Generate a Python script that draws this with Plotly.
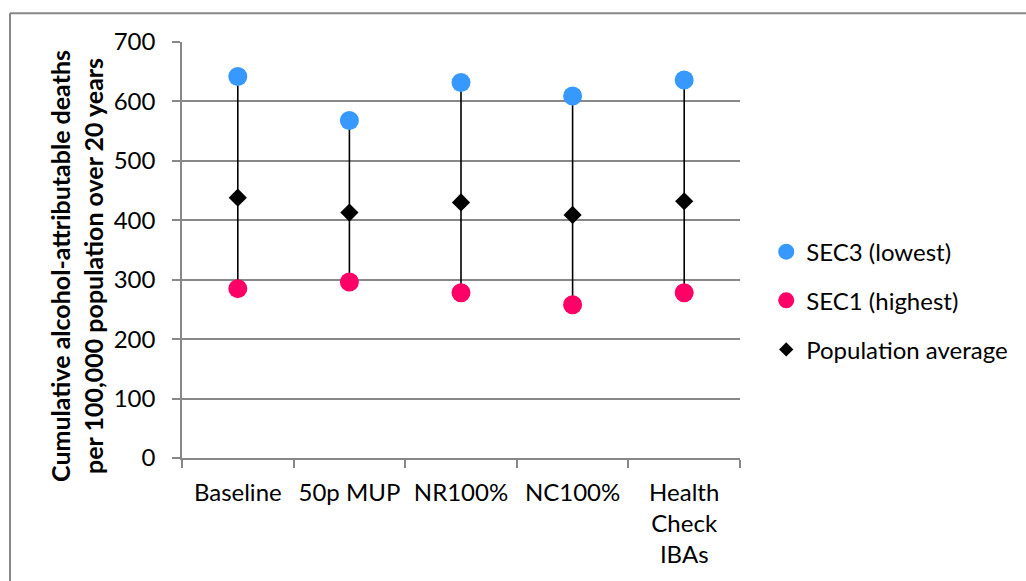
import plotly.graph_objects as go

# Scenario categories and cumulative deaths per 100,000 over 20 years
categories = ["Baseline", "50p MUP", "NR100%", "NC100%", "Health Check IBAs"]
tick_labels = ["Baseline", "50p MUP", "NR100%", "NC100%", "Health<br>Check<br>IBAs"]
sec3_lowest = [642, 568, 632, 609, 636]
sec1_highest = [285, 296, 278, 258, 278]
population_average = [438, 413, 430, 409, 432]

y_ticks = [0, 100, 200, 300, 400, 500, 600, 700]

BLUE = "#3799FF"
PINK = "#FF0066"
GREY = "#888888"
FONT = "Lato"

fig = go.Figure()

# High-low connector lines between the two socio-economic groups
line_x, line_y = [], []
for c, lo, hi in zip(categories, sec1_highest, sec3_lowest):
    line_x += [c, c, None]
    line_y += [lo, hi, None]
fig.add_trace(go.Scatter(x=line_x, y=line_y, mode="lines",
                         line=dict(color="black", width=1.6),
                         showlegend=False, hoverinfo="skip"))

fig.add_trace(go.Scatter(x=categories, y=sec3_lowest, mode="markers",
                         marker=dict(color=BLUE, size=19, symbol="circle"),
                         showlegend=False, name="SEC3 (lowest)"))
fig.add_trace(go.Scatter(x=categories, y=sec1_highest, mode="markers",
                         marker=dict(color=PINK, size=19, symbol="circle"),
                         showlegend=False, name="SEC1 (highest)"))
fig.add_trace(go.Scatter(x=categories, y=population_average, mode="markers",
                         marker=dict(color="black", size=14, symbol="diamond"),
                         showlegend=False, name="Population average"))

# Legend entries (smaller symbols, one legend box per entry)
fig.add_trace(go.Scatter(x=[None], y=[None], mode="markers", name="SEC3 (lowest)",
                         marker=dict(color=BLUE, size=16, symbol="circle"),
                         legend="legend"))
fig.add_trace(go.Scatter(x=[None], y=[None], mode="markers", name="SEC1 (highest)",
                         marker=dict(color=PINK, size=16, symbol="circle"),
                         legend="legend2"))
fig.add_trace(go.Scatter(x=[None], y=[None], mode="markers", name="Population average",
                         marker=dict(color="black", size=11, symbol="diamond"),
                         legend="legend3"))

legend_common = dict(x=1.047, xanchor="left", yanchor="middle",
                     font=dict(family=FONT, size=24, color="black"),
                     bgcolor="rgba(0,0,0,0)", borderwidth=0)

fig.update_layout(
    width=1026, height=581,
    margin=dict(l=182, r=286, t=42, b=123, autoexpand=False),
    paper_bgcolor="white", plot_bgcolor="white",
    font=dict(family=FONT, size=24, color="black"),
    legend=dict(y=0.495, **legend_common),
    legend2=dict(y=0.378, **legend_common),
    legend3=dict(y=0.260, **legend_common),
    xaxis=dict(
        type="category", categoryorder="array", categoryarray=categories,
        tickmode="array", tickvals=categories, ticktext=tick_labels,
        range=[-0.5, 4.5], showgrid=False, zeroline=False,
        showline=True, linecolor=GREY, linewidth=1.5,
        ticks="outside", tickson="boundaries", ticklen=8,
        tickcolor=GREY, tickwidth=1.5, ticklabelstandoff=12,
        tickangle=0, automargin=False,
        tickfont=dict(family=FONT, size=24, color="black"),
    ),
    yaxis=dict(
        range=[0, 700], tickvals=y_ticks, showgrid=True,
        gridcolor=GREY, gridwidth=1.5, zeroline=False,
        showline=True, linecolor=GREY, linewidth=1.5,
        ticks="outside", ticklen=8, tickcolor=GREY, tickwidth=1.5,
        ticklabelstandoff=12, automargin=False,
        tickfont=dict(family=FONT, size=24, color="black"),
    ),
    annotations=[dict(
        text="<b>Cumulative alcohol-attributable deaths<br>per 100,000 population over 20 years</b>",
        xref="paper", yref="paper", x=-0.188, y=0.462,
        xanchor="center", yanchor="middle", textangle=-90, showarrow=False,
        font=dict(family=FONT, size=25, color="black"),
    )],
    shapes=[
        # chart frame (left and top edges)
        dict(type="line", xref="paper", yref="paper", x0=-0.3082, x1=-0.3082,
             y0=1.0691, y1=-0.4, line=dict(color=GREY, width=2)),
        dict(type="line", xref="paper", yref="paper", x0=-0.3082, x1=1.55,
             y0=1.0691, y1=1.0691, line=dict(color=GREY, width=2)),
    ],
)

fig.write_html("out.html")
